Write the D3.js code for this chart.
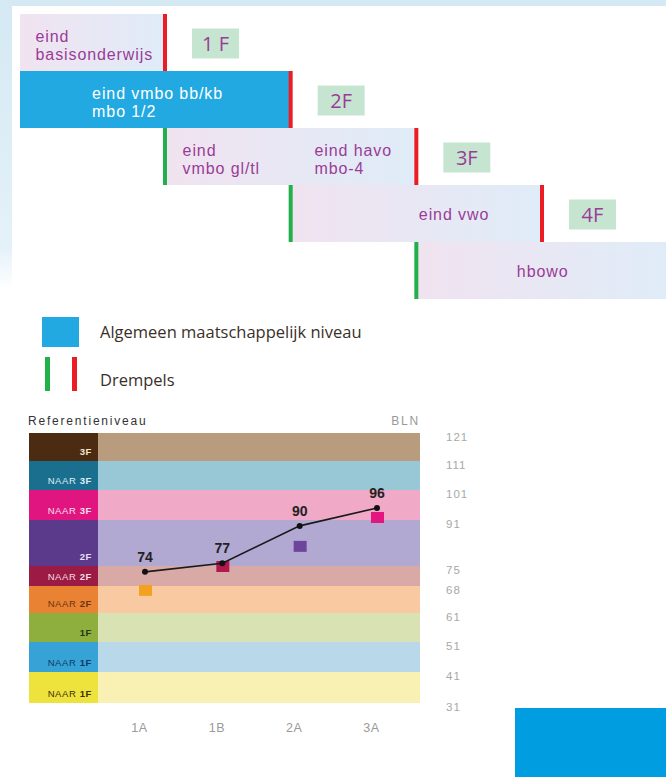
<!DOCTYPE html>
<html>
<head>
<meta charset="utf-8">
<script src="https://cdn.jsdelivr.net/npm/d3@7"></script>
<style>
  body { margin: 0; background: #fff; }
  svg { display: block; }
</style>
</head>
<body>
<svg class="chart"></svg>
<script>
// ---- top diagram data ----
var schoolRows = [
    {start: null, end: 1, green: false, red: true, labels: [{at: -0.03, lines: ["eind", "basisonderwijs"]}]},
    {start: null, end: 2, green: false, red: true, labels: [{at: 0.42, lines: ["eind vmbo bb/kb", "mbo 1/2"]}]},
    {start: 1, end: 3, green: true, red: true, labels: [{at: 1.14, lines: ["eind", "vmbo gl/tl"]}, {at: 2.19, lines: ["eind havo", "mbo-4"]}]},
    {start: 2, end: 4, green: true, red: true, labels: [{at: 3.02, lines: ["eind vwo"]}]},
    {start: 3, end: null, green: true, red: false, labels: [{at: 3.8, lines: ["hbowo"]}]}
];
var levelTags = ["1 F", "2F", "3F", "4F"];
var highlightRow = 1; // algemeen maatschappelijk niveau

// ---- bottom chart data ----
var bandNames = ["3F", "NAAR 3F", "NAAR 3F", "2F", "NAAR 2F", "NAAR 2F", "1F", "NAAR 1F", "NAAR 1F"];
var bandTicks = [121, 111, 101, 91, 75, 68, 61, 51, 41, 31];
var darkColors = ["#4b2c12", "#1a6f8f", "#e0157f", "#5b3a8c", "#9b1b45", "#ea8234", "#8eae3e", "#36a2d6", "#eee23c"];
var paleColors = ["#b99b7e", "#98c7d6", "#f0a9c7", "#b1a9d2", "#d9aaa5", "#f9c9a2", "#d9e2b3", "#b9d9ea", "#f9f1b3"];
var labelColors = ["#f3e6d0", "#dfeff6", "#fbe0ee", "#e8e0f6", "#f6dce4", "#6a3410", "#1f3a0e", "#0e3a66", "#3a3208"];
var groups = ["1A", "1B", "2A", "3A"];
var blnValues = [74, 77, 90, 96];
var markerValues = [67, 75, 82, 92];
var markerColors = ["#f2a21e", "#b3184c", "#6f459b", "#e3157f"];

var W = 666, H = 777;
var svg = d3.select(".chart").attr("width", W).attr("height", H);
var defs = svg.append("defs");

// soft blue page background around the top panel
var bg = defs.append("linearGradient").attr("id", "bgfade").attr("x1", 0).attr("y1", 0).attr("x2", 0).attr("y2", 1);
bg.append("stop").attr("offset", "0%").attr("stop-color", "#d4e9f4");
bg.append("stop").attr("offset", "85%").attr("stop-color", "#e4f1f8");
bg.append("stop").attr("offset", "100%").attr("stop-color", "#ffffff");
svg.append("rect").attr("x", 0).attr("y", 0).attr("width", W).attr("height", 290).attr("fill", "url(#bgfade)");
svg.append("rect").attr("x", 12).attr("y", 6).attr("width", W - 12).attr("height", 300).attr("fill", "#fff");

var boxGrad = defs.append("linearGradient").attr("id", "boxgrad");
boxGrad.append("stop").attr("offset", "0%").attr("stop-color", "#f1e3f0");
boxGrad.append("stop").attr("offset", "100%").attr("stop-color", "#dfecf8");

// ---------- top diagram ----------
var diagram = svg.append("g");
var stepX = d3.scaleLinear().domain([1, 4]).range([165, 542]);
var rowY = d3.scaleBand().domain(d3.range(schoolRows.length)).range([14, 299]).paddingInner(0);
var leftEdge = 20, rightEdge = W;
var purple = "#9a3c97";
var topFont = "'Open Sans', 'Noto Sans', sans-serif";
var labelFont = "'Liberation Sans', Arial, sans-serif";

schoolRows.forEach(function(r, i) {
    var x0 = r.start === null ? leftEdge : stepX(r.start);
    var x1 = r.end === null ? rightEdge : stepX(r.end);
    var y0 = rowY(i), h = rowY.bandwidth();
    var g = diagram.append("g");
    g.append("rect").attr("x", x0).attr("y", y0).attr("width", x1 - x0).attr("height", h)
        .attr("fill", i === highlightRow ? "#23a9e1" : "url(#boxgrad)");
    if (r.green) g.append("rect").attr("x", x0 - 2).attr("y", y0).attr("width", 4).attr("height", h).attr("fill", "#22b04a");
    if (r.red) g.append("rect").attr("x", x1 - 2).attr("y", y0).attr("width", 4).attr("height", h).attr("fill", "#ec1c24");

    r.labels.forEach(function(l) {
        l.lines.forEach(function(line, k) {
            g.append("text")
                .attr("x", stepX(l.at))
                .attr("y", y0 + h / 2 + (l.lines.length === 1 ? 6 : -0.5 + k * 18))
                .attr("font-family", labelFont)
                .attr("font-size", 16)
                .attr("letter-spacing", 0.9)
                .attr("fill", i === highlightRow ? "#fff" : purple)
                .text(line);
        });
    });

    if (r.end !== null) {
        var tx = x1 + 27;
        g.append("rect").attr("x", tx).attr("y", y0 + h / 2 - 14).attr("width", 47).attr("height", 30).attr("fill", "#c6e5d1");
        g.append("text").attr("x", tx + 23.5).attr("y", y0 + h / 2 + 8.5)
            .attr("text-anchor", "middle")
            .attr("font-family", topFont).attr("font-size", 20).attr("fill", purple)
            .text(levelTags[r.end - 1]);
    }
});

// legend
var legend = svg.append("g").attr("font-family", topFont).attr("font-size", 16.5).attr("fill", "#3a3028");
legend.append("rect").attr("x", 42).attr("y", 317).attr("width", 37).attr("height", 30).attr("fill", "#23a9e1");
legend.append("text").attr("x", 100).attr("y", 338).text("Algemeen maatschappelijk niveau");
legend.append("rect").attr("x", 45).attr("y", 357).attr("width", 5).attr("height", 34).attr("fill", "#22b04a");
legend.append("rect").attr("x", 72).attr("y", 357).attr("width", 5).attr("height", 34).attr("fill", "#ec1c24");
legend.append("text").attr("x", 100).attr("y", 386).text("Drempels");

// ---------- bottom chart ----------
var chartFont = "'Liberation Sans', Arial, sans-serif";
// piecewise scale, band edges are not evenly spaced
var y = d3.scaleLinear()
    .domain(bandTicks)
    .range([433, 461, 490, 520, 566, 586, 613, 642, 672, 703]);
var x = d3.scalePoint().domain(groups).range([145, 377]);
var colLeft = 29, colRight = 98, plotRight = 420;

var chart = svg.append("g");
var bands = bandNames.map(function(n, i) {
    return {name: n, hi: bandTicks[i], lo: bandTicks[i + 1], dark: darkColors[i], pale: paleColors[i], lab: labelColors[i]};
});

chart.selectAll(".pale").data(bands).enter().append("rect")
    .attr("x", colRight).attr("y", function(d) { return y(d.hi); })
    .attr("width", plotRight - colRight)
    .attr("height", function(d) { return y(d.lo) - y(d.hi); })
    .attr("fill", function(d) { return d.pale; });
chart.selectAll(".dark").data(bands).enter().append("rect")
    .attr("x", colLeft).attr("y", function(d) { return y(d.hi); })
    .attr("width", colRight - colLeft)
    .attr("height", function(d) { return y(d.lo) - y(d.hi); })
    .attr("fill", function(d) { return d.dark; });

var bandLab = chart.selectAll(".blab").data(bands).enter().append("text")
    .attr("x", colRight - 6)
    .attr("y", function(d) { return y(d.lo) - 6; })
    .attr("text-anchor", "end")
    .attr("font-family", chartFont).attr("font-size", 9.5).attr("letter-spacing", 0.6)
    .attr("fill", function(d) { return d.lab; });
bandLab.each(function(d) {
    var parts = d.name.split(" ");
    var t = d3.select(this);
    if (parts.length > 1) t.append("tspan").text(parts[0] + " ");
    t.append("tspan").attr("font-weight", "bold").text(parts[parts.length - 1]);
});

chart.append("text").attr("x", 28).attr("y", 425)
    .attr("font-family", chartFont).attr("font-size", 12).attr("letter-spacing", 1.8).attr("fill", "#333")
    .text("Referentieniveau");
chart.append("text").attr("x", 420).attr("y", 425).attr("text-anchor", "end")
    .attr("font-family", chartFont).attr("font-size", 12).attr("letter-spacing", 1.8).attr("fill", "#999")
    .text("BLN");

// right BLN axis
var yAxis = d3.axisRight(y).tickValues(bandTicks).tickSize(0).tickPadding(0);
var ya = chart.append("g").attr("transform", "translate(446,4)").call(yAxis);
ya.select(".domain").remove();
ya.selectAll("text").attr("font-family", chartFont).attr("font-size", 11.5).attr("letter-spacing", 1).attr("fill", "#a8a8a8");

// bottom group axis
var xAxis = d3.axisBottom(x).tickSize(0).tickPadding(0);
var xa = chart.append("g").attr("transform", "translate(-6,723)").call(xAxis);
xa.select(".domain").remove();
xa.selectAll("text").attr("font-family", chartFont).attr("font-size", 12.5).attr("letter-spacing", 0.5).attr("fill", "#9a9a9a");

// markers (squares)
chart.selectAll(".mk").data(groups).enter().append("rect")
    .attr("x", function(d) { return x(d) - 6; })
    .attr("y", function(d, i) { return y(markerValues[i]) - 5; })
    .attr("width", 13).attr("height", 11)
    .attr("fill", function(d, i) { return markerColors[i]; });

// BLN line
var pts = groups.map(function(g, i) { return [x(g), y(blnValues[i]) + 3]; });
chart.append("path").attr("d", d3.line()(pts))
    .attr("fill", "none").attr("stroke", "#1a1a1a").attr("stroke-width", 1.6);
chart.selectAll(".dot").data(pts).enter().append("circle")
    .attr("cx", function(d) { return d[0]; }).attr("cy", function(d) { return d[1]; })
    .attr("r", 3).attr("fill", "#111");
chart.selectAll(".val").data(pts).enter().append("text")
    .attr("x", function(d) { return d[0]; }).attr("y", function(d) { return d[1] - 10; })
    .attr("text-anchor", "middle")
    .attr("font-family", chartFont).attr("font-size", 14).attr("font-weight", "bold").attr("fill", "#222")
    .text(function(d, i) { return blnValues[i]; });

// blue block bottom right
svg.append("rect").attr("x", 515).attr("y", 708).attr("width", W - 515).attr("height", H - 708).attr("fill", "#009ee0");
</script>
</body>
</html>
